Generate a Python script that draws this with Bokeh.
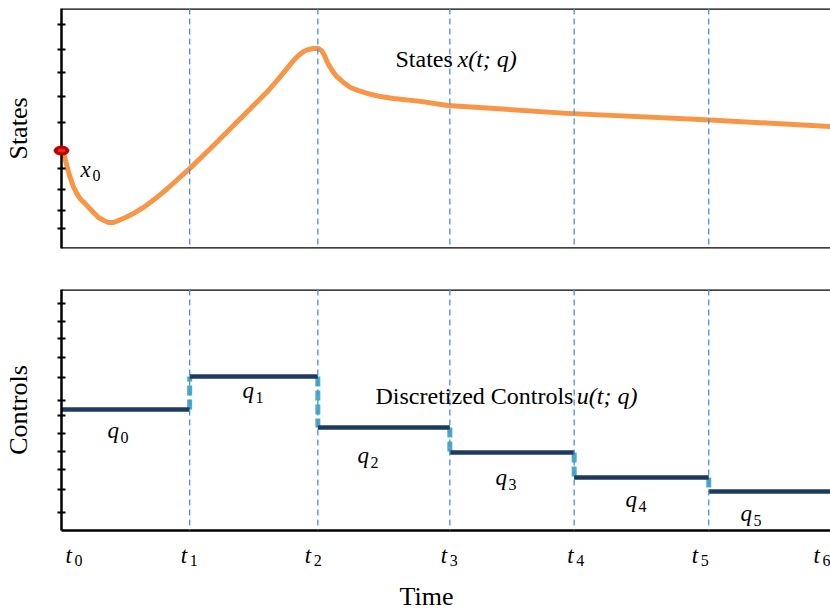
import numpy as np
from bokeh.plotting import figure
from bokeh.layouts import column
from bokeh.models import Span, FixedTicker, Range1d
from bokeh.core.properties import value
from bokeh.embed import file_html
from bokeh.resources import INLINE

# ---------------- data ----------------
# time grid nodes t0..t6
t_nodes = [0.0, 1.0, 2.0, 3.03, 4.0, 5.05, 6.0]
t_names = ["t", "t", "t", "t", "t", "t", "t"]
t_subs = ["0", "1", "2", "3", "4", "5", "6"]

# state trajectory x(t; q)
state_t = [0.0, 0.016, 0.031, 0.047, 0.070, 0.094, 0.125, 0.148, 0.179, 0.211,
           0.250, 0.289, 0.328, 0.367, 0.406, 0.445, 0.499, 0.562, 0.640, 0.733,
           0.827, 1.0, 1.186, 1.397, 1.607, 1.709, 1.810, 1.849, 1.888, 1.927,
           1.966, 2.005, 2.029, 2.052, 2.075, 2.107, 2.146, 2.200, 2.255, 2.317,
           2.387, 2.489, 2.590, 2.801, 3.012, 3.948, 4.986, 6.0]
state_x = [4.08, 4.00, 3.67, 3.33, 2.92, 2.56, 2.24, 2.06, 1.90, 1.72,
           1.50, 1.29, 1.17, 1.08, 1.08, 1.17, 1.29, 1.46, 1.71, 2.08,
           2.50, 3.33, 4.29, 5.42, 6.54, 7.17, 7.83, 8.04, 8.21, 8.29,
           8.33, 8.33, 8.25, 8.04, 7.75, 7.46, 7.17, 6.92, 6.71, 6.58,
           6.46, 6.33, 6.25, 6.13, 5.96, 5.63, 5.38, 5.08]

# piecewise-constant control parameters q0..q5
q_values = [5.02, 6.39, 4.27, 3.24, 2.20, 1.62]
q_names = ["q", "q", "q", "q", "q", "q"]
q_subs = ["0", "1", "2", "3", "4", "5"]

# unlabeled axis ticks
state_ticks = [0.85, 1.58, 2.46, 3.35, 4.08, 5.24, 6.33, 7.35, 8.29, 9.32]
control_ticks = [0.75, 1.70, 2.53, 3.28, 4.02, 4.77, 5.39, 6.35, 7.18, 7.97, 8.67, 9.42]

# ---------------- style ----------------
SERIF = "Liberation Serif"
ORANGE = "#f79646"
NAVY = "#1f3a60"
CYAN = "#4bacc6"
GRIDBLUE = "#4a8fdc"
MID = 0.3375  # em offset of the "middle" baseline above the alphabetic baseline

# label placement (layout only; y is the alphabetic baseline)
q_label_t = [0.359, 1.412, 2.309, 3.386, 4.400, 5.298]
q_label_y = [3.82, 5.48, 2.78, 1.87, 0.95, 0.37]
t_label_dx = [4, -9, -13, -9, -7, -17, -17]


def add_text(p, x, y, text, size, style="normal", align="left", dx=0, dy=0):
    # dy > 0 moves text down (screen pixels); y is the text baseline
    shift = dy - MID * size
    p.text(x=x, y=y, text=text, x_offset=dx, y_offset=shift,
           text_font=value(SERIF), text_font_style=style, text_font_size=f"{size}px",
           text_baseline="middle", text_align=align, text_color="black",
           level="overlay")


def add_math(p, xs, ys, bases, subs, size=23, sub_size=16, sub_dx=13, sub_dy=4, dxs=None):
    if dxs is None:
        dxs = [0] * len(xs)
    add_text(p, xs, ys, bases, size, style="italic", dx=dxs)
    add_text(p, xs, ys, subs, sub_size, dx=[d + sub_dx for d in dxs], dy=sub_dy)


def style_frame(p, ticks, label):
    p.outline_line_color = None
    p.xgrid.visible = False
    p.ygrid.visible = False
    ax = p.yaxis[0]
    ax.ticker = FixedTicker(ticks=ticks)
    ax.major_label_text_font_size = "0px"
    ax.major_label_text_color = None
    ax.major_label_standoff = 0
    ax.major_tick_in = 4
    ax.major_tick_out = 4
    ax.major_tick_line_width = 1.8
    ax.major_tick_line_color = "black"
    ax.minor_tick_line_color = None
    ax.axis_line_width = 2.5
    ax.axis_line_color = "black"
    ax.axis_label = label
    ax.axis_label_text_font = SERIF
    ax.axis_label_text_font_style = "normal"
    ax.axis_label_text_font_size = "26px"
    ax.axis_label_text_color = "black"
    ax.axis_label_standoff = 25
    p.add_layout(Span(location=10, dimension="width", line_color="black", line_width=2.5))
    for tk in t_nodes[1:-1]:
        p.add_layout(Span(location=tk, dimension="height", line_color=GRIDBLUE,
                          line_width=1.3, line_dash="6 4"))


# ---------------- top panel: states ----------------
p1 = figure(width=830, height=260, x_range=Range1d(0, 6.0), y_range=Range1d(0, 10),
            output_backend="svg", toolbar_location=None,
            min_border_left=61, min_border_right=0, min_border_top=8, min_border_bottom=12)
p1.xaxis.visible = False
p1.line(state_t, state_x, line_color=ORANGE, line_width=5, line_join="round", line_cap="round")
p1.ellipse(x=[state_t[0]], y=[state_x[0]], width=15, height=9, width_units="screen",
           height_units="screen", fill_color="#b80000", line_color="#b80000", level="overlay")
p1.ellipse(x=[state_t[0]], y=[state_x[0]], width=8, height=4, width_units="screen",
           height_units="screen", fill_color="#e8281e", line_color=None, level="overlay")
style_frame(p1, state_ticks, "States")
p1.add_layout(Span(location=0, dimension="width", line_color="black", line_width=2.5))
add_math(p1, [0.148], [2.96], ["x"], ["0"], sub_dx=12, sub_dy=3)
add_text(p1, [2.606], [7.54], ["States"], 24)
add_text(p1, [3.090], [7.54], ["x(t; q)"], 24, style="italic")

# ---------------- bottom panel: controls ----------------
p2 = figure(width=830, height=352, x_range=Range1d(0, 6.0), y_range=Range1d(0, 10),
            output_backend="svg", toolbar_location=None,
            min_border_left=61, min_border_right=0, min_border_top=29, min_border_bottom=82)
style_frame(p2, control_ticks, "Controls")
xa = p2.xaxis[0]
xa.ticker = FixedTicker(ticks=t_nodes)
xa.major_tick_in = 0
xa.major_tick_out = 0
xa.major_label_text_font_size = "0px"
xa.major_label_text_color = None
xa.minor_tick_line_color = None
xa.axis_line_width = 2.5
xa.axis_line_color = "black"

p2.segment(x0=t_nodes[1:-1], y0=q_values[:-1], x1=t_nodes[1:-1], y1=q_values[1:],
           line_color=CYAN, line_width=5, line_dash="10 4")
p2.segment(x0=t_nodes[:-1], y0=q_values, x1=t_nodes[1:], y1=q_values,
           line_color=NAVY, line_width=4.5)

add_math(p2, q_label_t, q_label_y, q_names, q_subs)
add_math(p2, t_nodes, [-1.37] * len(t_nodes), t_names, t_subs,
         sub_dx=9, sub_dy=2, dxs=t_label_dx)

add_text(p2, [2.45], [5.23], ["Discretized Controls"], 24)
add_text(p2, [4.02], [5.23], ["u(t; q)"], 24, style="italic")
add_text(p2, [2.848], [-3.11], ["Time"], 26, align="center")

layout = column(p1, p2, spacing=0)
open("out.html", "w").write(file_html(layout, INLINE))
